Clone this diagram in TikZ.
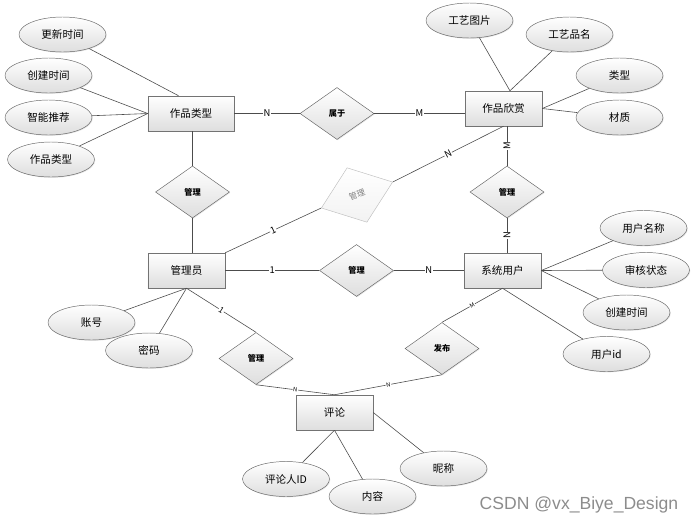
\documentclass[tikz,border=0pt]{standalone}
\usepackage{fontspec}
\setmainfont{Noto Sans CJK SC}
\newfontfamily\wmfont{Liberation Sans}
\usetikzlibrary{shapes.geometric,shadows}

\begin{document}
\begin{tikzpicture}[
  x=0.03cm, y=-0.03cm,
  font=\small,
  shade/.style={top color=white, bottom color=black!13,
                drop shadow={opacity=0.2, shadow xshift=0.7pt, shadow yshift=-0.7pt}},
  ent/.style={rectangle, shade, draw=black!55, minimum width=2.31cm,
              minimum height=1.05cm, align=center},
  attr/.style={ellipse, shade, draw=black!60, minimum width=2.61cm,
               minimum height=1.05cm, inner sep=0pt},
  rel/.style={diamond, shade, draw=black!60, minimum width=2.22cm,
              minimum height=1.56cm, inner sep=0pt, font=\scriptsize\bfseries},
  faded/.style={diamond, draw=black!25, top color=white, bottom color=black!5,
                minimum width=2.28cm, minimum height=1.74cm, inner sep=0pt,
                text=black!50, font=\scriptsize, rotate=20},
  card/.style={fill=white, inner sep=0.5pt, font=\footnotesize},
  cardsm/.style={card, sloped, font=\fontsize{5}{5}\selectfont},
  link/.style={draw=black!70, line width=0.5pt}
]
\useasboundingbox (0,0) rectangle (696,524);
% entities
\node[ent, minimum width=2.58cm] (zplx) at (191,113.5) {作品类型};
\node[ent] (zpxs) at (503.5,108.5) {作品欣赏};
\node[ent] (gly)  at (186.5,270.5) {管理员};
\node[ent] (xtyh) at (502.5,270.5) {系统用户};
\node[ent] (pl)   at (334.5,412.5) {评论};
% relationships
\node[rel]   (sy)  at (337,113.5) {属于};
\node[rel]   (gl1) at (192.5,192) {管理};
\node[faded] (gl2) at (357,195)   {管理};
\node[rel]   (gl3) at (507,192)   {管理};
\node[rel]   (gl4) at (356.5,270.5) {管理};
\node[rel]   (gl5) at (256,358.5) {管理};
\node[rel]   (fb)  at (442,348.5) {发布};
% attributes
\node[attr] (a1) at (62.5,34.5)  {更新时间};
\node[attr] (a2) at (48.5,75.5)  {创建时间};
\node[attr] (a3) at (48.5,117.5) {智能推荐};
\node[attr] (a4) at (51,159.5)   {作品类型};
\node[attr] (b1) at (469.5,20.5) {工艺图片};
\node[attr] (b2) at (569.5,34.5) {工艺品名};
\node[attr] (b3) at (619.5,75.5) {类型};
\node[attr] (b4) at (619.5,117.5) {材质};
\node[attr] (c1) at (643.5,228)  {用户名称};
\node[attr] (c2) at (646,270)    {审核状态};
\node[attr] (c3) at (626.5,312.5) {创建时间};
\node[attr] (c4) at (606.5,354)  {用户id};
\node[attr] (d1) at (91.5,322.5) {账号};
\node[attr] (d2) at (149,350.5)  {密码};
\node[attr] (e1) at (286,479)    {评论人ID};
\node[attr] (e2) at (372.5,496.5) {内容};
\node[attr] (e3) at (443.5,468.5) {昵称};
% attribute lines
\draw[link] (a1) -- (zplx.125);
\foreach \a in {a2,a3,a4} \draw[link] (\a) -- (zplx.west);
\foreach \a in {b1,b2} \draw[link] (\a) -- (zpxs.70);
\foreach \a in {b3,b4} \draw[link] (\a) -- (zpxs.east);
\foreach \a in {c1,c2,c3} \draw[link] (\a) -- (xtyh.east);
\draw[link] (c4) -- (xtyh.south);
\foreach \a in {d1,d2} \draw[link] (\a) -- (gly.south);
\foreach \a in {e1,e2} \draw[link] (\a) -- (pl.south);
\draw[link] (e3) -- (pl.east);
% relationship lines
\draw[link] (zplx) -- node[card] {N} (sy);
\draw[link] (sy.east) -- node[card] {M} (zpxs.west |- sy.east);
\draw[link] (gl1.north |- zplx.south) -- (gl1.north);
\draw[link] (gl1.south) -- (gl1.south |- gly.north);
\draw[link] (gly.north east) -- node[card, sloped] {1} (gl2.west);
\draw[link] (gl2.east) -- node[card, sloped] {N} (zpxs.south);
\draw[link] (gl3.north |- zpxs.south) -- node[card, rotate=90] {M} (gl3.north);
\draw[link] (gl3.south) -- node[card, rotate=90] {N} (gl3.south |- xtyh.north);
\draw[link] (gly) -- node[card] {1} (gl4);
\draw[link] (gl4) -- node[card] {N} (xtyh);
\draw[link] (xtyh.south) -- node[cardsm] {M} (fb.north);
\draw[link] (fb.south) -- node[cardsm] {N} (pl.north);
\draw[link] (gl5.south) -- node[cardsm] {N} (pl.north);
\draw[link] (gly.south) -- node[card, sloped, font=\scriptsize] {1} (gl5.north);
% watermark
\node[font=\wmfont\fontsize{15}{15}\selectfont, text=black!45] (wm) at (579,505) {CSDN @vx\_Biye\_Design};
\end{tikzpicture}
\end{document}
